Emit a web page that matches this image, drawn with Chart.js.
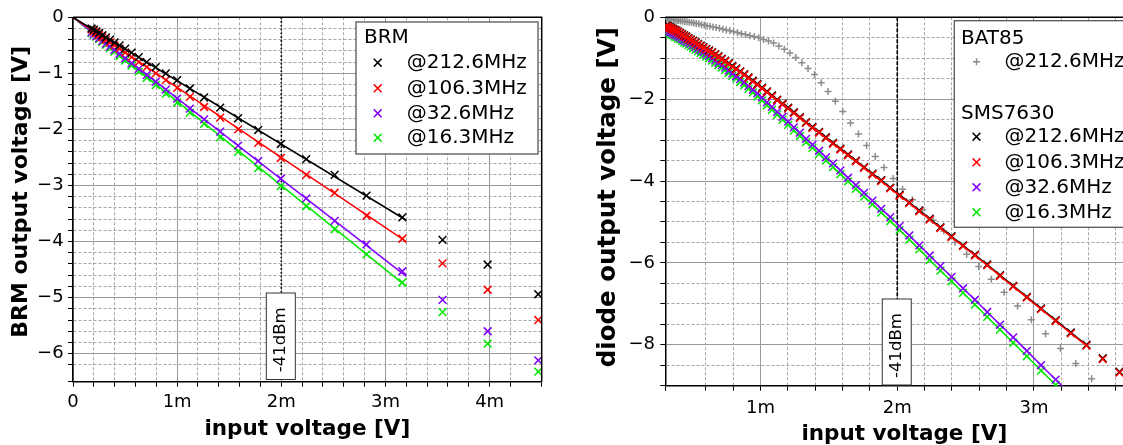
<!DOCTYPE html>
<html>
<head>
<meta charset="utf-8">
<script src="https://cdn.jsdelivr.net/npm/chart.js@4.4.1/dist/chart.umd.min.js"></script>
<style>
  html, body { margin: 0; padding: 0; background: #fff; }
  #wrap { position: relative; width: 1123px; height: 445px; overflow: hidden; }
  #brm { position: absolute; left: 0; top: 0; }
  #diode { position: absolute; left: 560px; top: 0; }
</style>
</head>
<body>
<div id="wrap">
  <canvas id="brm" width="560" height="445"></canvas>
  <canvas id="diode" width="600" height="445"></canvas>
</div>
<script>
// ---- left plot: BRM, input voltage in mV ----
var brmX = [0.178,0.200,0.224,0.251,0.282,0.316,0.355,0.398,0.447,0.501,0.562,0.631,0.708,0.794,0.891,
            1.000,1.122,1.259,1.413,1.585,1.778,1.995,2.239,2.512,2.818,3.162,3.548,3.981,4.467];
var brm212 = [-0.20,-0.22,-0.25,-0.28,-0.32,-0.36,-0.40,-0.45,-0.50,-0.56,-0.63,-0.71,-0.80,-0.89,-1.00,
              -1.12,-1.27,-1.43,-1.61,-1.80,-2.01,-2.26,-2.53,-2.81,-3.18,-3.57,-3.97,-4.41,-4.94];
var brm106 = [-0.22,-0.25,-0.28,-0.32,-0.36,-0.40,-0.45,-0.50,-0.56,-0.63,-0.71,-0.80,-0.89,-1.00,-1.12,
              -1.26,-1.42,-1.60,-1.79,-2.00,-2.24,-2.51,-2.81,-3.13,-3.54,-3.95,-4.39,-4.86,-5.40];
var brm32  = [-0.27,-0.30,-0.33,-0.37,-0.42,-0.47,-0.52,-0.58,-0.65,-0.73,-0.82,-0.92,-1.03,-1.15,-1.29,
              -1.45,-1.63,-1.82,-2.04,-2.29,-2.56,-2.88,-3.23,-3.63,-4.05,-4.53,-5.04,-5.60,-6.12];
var brm16  = [-0.28,-0.31,-0.35,-0.39,-0.44,-0.49,-0.55,-0.61,-0.69,-0.77,-0.86,-0.97,-1.08,-1.21,-1.36,
              -1.52,-1.70,-1.90,-2.14,-2.40,-2.69,-3.01,-3.37,-3.78,-4.23,-4.73,-5.26,-5.82,-6.32];
var brmFitX = [0, 3.2];
var brmFit212 = [0, -3.62];
var brmFit106 = [0, -4.00];
var brmFit32  = [0, -4.62];
var brmFit16  = [0, -4.80];
var brmXMajor = [0, 1, 2, 3, 4];
var brmYMajor = [0, -1, -2, -3, -4, -5, -6];

// ---- right plot: diodes ----
var smsX = [0.3125,0.3234,0.3348,0.3466,0.3588,0.3714,0.3844,0.3979,0.4119,0.4264,
            0.4414,0.4569,0.4729,0.4896,0.5068,0.5246,0.5430,0.5621,0.5818,0.6023,
            0.6234,0.6453,0.6680,0.6915,0.7158,0.7409,0.7670,0.7939,0.8218,0.8507,
            0.8806,0.9115,0.9435,0.9767,1.0110,1.0466,1.0833,1.1214,1.1608,1.2016,
            1.2438,1.2875,1.3328,1.3796,1.4281,1.4782,1.5302,1.5839,1.6396,1.6972,
            1.7569,1.8186,1.8825,1.9486,2.0171,2.0880,2.1613,2.2372,2.3157,2.3970,
            2.4811,2.5682,2.6583,2.7516,2.8482,2.9482,3.0517,3.1588,3.2697,3.3845,
            3.5033,3.6262];
var sms212 = [-0.20,-0.22,-0.24,-0.26,-0.28,-0.30,-0.32,-0.35,-0.38,-0.41,
              -0.44,-0.47,-0.51,-0.54,-0.57,-0.61,-0.65,-0.69,-0.73,-0.77,
              -0.81,-0.85,-0.90,-0.95,-1.01,-1.06,-1.12,-1.19,-1.25,-1.32,
              -1.39,-1.47,-1.55,-1.63,-1.72,-1.81,-1.91,-2.01,-2.11,-2.21,
              -2.32,-2.44,-2.56,-2.68,-2.80,-2.93,-3.07,-3.21,-3.35,-3.50,
              -3.66,-3.82,-3.98,-4.16,-4.34,-4.52,-4.72,-4.92,-5.13,-5.35,
              -5.57,-5.80,-6.04,-6.30,-6.56,-6.83,-7.11,-7.40,-7.70,-8.00,
              -8.33,-8.66];
var sms106 = [-0.22,-0.24,-0.26,-0.28,-0.30,-0.32,-0.34,-0.37,-0.40,-0.43,
              -0.46,-0.49,-0.53,-0.56,-0.59,-0.63,-0.67,-0.71,-0.75,-0.79,
              -0.83,-0.87,-0.92,-0.97,-1.03,-1.08,-1.14,-1.21,-1.27,-1.34,
              -1.41,-1.49,-1.57,-1.65,-1.74,-1.83,-1.93,-2.03,-2.13,-2.23,
              -2.34,-2.46,-2.58,-2.70,-2.82,-2.95,-3.09,-3.23,-3.37,-3.52,
              -3.68,-3.84,-4.00,-4.18,-4.36,-4.54,-4.74,-4.94,-5.15,-5.37,
              -5.59,-5.82,-6.06,-6.32,-6.58,-6.85,-7.13,-7.42,-7.72,-8.02,
              -8.35,-8.68];
var sms32 = [-0.30,-0.32,-0.35,-0.37,-0.39,-0.42,-0.44,-0.47,-0.49,-0.53,
             -0.56,-0.59,-0.62,-0.65,-0.69,-0.73,-0.77,-0.81,-0.85,-0.90,
             -0.94,-1.00,-1.05,-1.11,-1.17,-1.23,-1.30,-1.37,-1.44,-1.51,
             -1.59,-1.68,-1.77,-1.86,-1.96,-2.08,-2.19,-2.31,-2.43,-2.55,
             -2.69,-2.82,-2.97,-3.11,-3.26,-3.42,-3.57,-3.74,-3.92,-4.10,
             -4.29,-4.48,-4.68,-4.88,-5.10,-5.33,-5.57,-5.82,-6.08,-6.34,
             -6.62,-6.90,-7.20,-7.51,-7.82,-8.15,-8.50,-8.85,-9.21];
var sms16 = [-0.35,-0.37,-0.40,-0.42,-0.44,-0.47,-0.49,-0.52,-0.54,-0.58,
             -0.61,-0.64,-0.68,-0.71,-0.75,-0.79,-0.83,-0.87,-0.91,-0.96,
             -1.00,-1.06,-1.11,-1.17,-1.23,-1.29,-1.36,-1.43,-1.50,-1.58,
             -1.66,-1.75,-1.84,-1.93,-2.03,-2.15,-2.26,-2.38,-2.50,-2.63,
             -2.77,-2.90,-3.05,-3.19,-3.34,-3.50,-3.66,-3.83,-4.01,-4.19,
             -4.38,-4.57,-4.77,-4.98,-5.20,-5.43,-5.67,-5.93,-6.19,-6.45,
             -6.73,-7.02,-7.32,-7.63,-7.95,-8.28,-8.63,-8.98,-9.34];
var batX = [0.316,0.327,0.338,0.350,0.363,0.375,0.389,0.402,0.416,0.431,
            0.446,0.462,0.478,0.495,0.512,0.530,0.549,0.568,0.588,0.609,
            0.630,0.652,0.675,0.699,0.724,0.749,0.775,0.803,0.831,0.860,
            0.890,0.922,0.954,0.987,1.022,1.058,1.095,1.134,1.174,1.215,
            1.257,1.302,1.347,1.395,1.444,1.494,1.547,1.601,1.658,1.716,
            1.776,1.839,1.903,1.970,2.039,2.111,2.185,2.262,2.341,2.423,
            2.508,2.596,2.688,2.782,2.880,2.981,3.085,3.194,3.306,3.422];
var bat212 = [-0.05,-0.05,-0.06,-0.06,-0.07,-0.07,-0.08,-0.08,-0.09,-0.09,
              -0.10,-0.11,-0.12,-0.13,-0.14,-0.15,-0.16,-0.18,-0.19,-0.21,
              -0.22,-0.24,-0.25,-0.27,-0.29,-0.31,-0.33,-0.35,-0.37,-0.40,
              -0.42,-0.45,-0.47,-0.50,-0.54,-0.58,-0.63,-0.70,-0.78,-0.87,
              -0.98,-1.11,-1.25,-1.40,-1.60,-1.81,-2.05,-2.30,-2.58,-2.85,
              -3.13,-3.40,-3.67,-3.94,-4.20,-4.46,-4.71,-4.96,-5.22,-5.50,
              -5.79,-6.09,-6.40,-6.72,-7.05,-7.39,-7.73,-8.09,-8.46,-8.83];
var diodeXMajor = [1, 2, 3];
var diodeYMajor = [0, -2, -4, -6, -8];
var dbmMarkX = 2.0;   // -41dBm
var dbmLabel = '-41dBm';

Chart.defaults.font.family = '"DejaVu Sans", sans-serif';
Chart.defaults.color = '#000';

var BLACK = '#000000', RED = '#ff0000', PURPLE = '#8000ff', GREEN = '#00e800', GRAY = '#8c8c8c';

function pts(xs, ys) {
  var out = [];
  for (var i = 0; i < ys.length; i++) out.push({x: xs[i], y: ys[i]});
  return out;
}
function isMajor(v, list) {
  for (var i = 0; i < list.length; i++) if (Math.abs(list[i] - v) < 1e-6) return true;
  return false;
}
function markers(xs, ys, color, style, r, order) {
  return { data: pts(xs, ys), showLine: false, pointStyle: style, pointRadius: r,
           pointBorderColor: color, pointBackgroundColor: color, pointBorderWidth: 1.5, order: order };
}
function curve(xs, ys, color, order) {
  return { data: pts(xs, ys), showLine: true, borderColor: color, borderWidth: 1.5,
           pointRadius: 0, order: order, clip: 0 };
}

function axis(min, max, step, major, fmt, size, tickPad, title, titleSize, titlePad) {
  return {
    type: 'linear', min: min, max: max,
    afterFit: function (s) { if (s.isHorizontal()) s.height = size; else s.width = size; },
    ticks: { stepSize: step, autoSkip: false, maxRotation: 0, padding: tickPad, color: '#000',
             font: {size: 18},
             callback: function (v) { return isMajor(v, major) ? fmt(v) : ''; } },
    grid: { color: function (c) { return (!c.tick || isMajor(c.tick.value, major)) ? '#999999' : '#a6a6a6'; },
            lineWidth: 1, tickColor: '#000', tickLength: 5 },
    border: { color: '#000', width: 1.5,
              dash: function (c) { return (c.tick && !isMajor(c.tick.value, major)) ? [3, 2] : []; } },
    title: { display: true, text: title, color: '#000',
             font: {size: titleSize, weight: 'bold', lineHeight: 1}, padding: titlePad }
  };
}
function fmtX(v) { return Math.abs(v) < 1e-6 ? '0' : Math.round(v) + 'm'; }
function fmtY(v) { return Math.abs(v) < 1e-6 ? '0' : '\u2212' + Math.abs(Math.round(v)); }

function drawMark(c, style, x, y, color) {
  c.save();
  c.strokeStyle = color; c.lineWidth = 1.5;
  c.beginPath();
  if (style === 'cross') {
    c.moveTo(x - 3.5, y); c.lineTo(x + 3.5, y);
    c.moveTo(x, y - 3.5); c.lineTo(x, y + 3.5);
  } else {
    var d = 3.9;
    c.moveTo(x - d, y - d); c.lineTo(x + d, y + d);
    c.moveTo(x - d, y + d); c.lineTo(x + d, y - d);
  }
  c.stroke();
  c.restore();
}

function legendPlugin(lg) {
  return {
    id: 'boxLegend',
    afterDatasetsDraw: function (chart) {
      var c = chart.ctx, b = lg.box;
      c.save();
      c.fillStyle = '#fff';
      c.fillRect(b[0], b[1], b[2] - b[0], b[3] - b[1]);
      c.strokeStyle = '#555'; c.lineWidth = 1.3;
      c.strokeRect(b[0], b[1], b[2] - b[0], b[3] - b[1]);
      c.font = '20px "DejaVu Sans"'; c.textBaseline = 'middle'; c.textAlign = 'left';
      lg.rows.forEach(function (r) {
        c.fillStyle = '#000';
        if (r.head) { c.fillText(r.text, lg.headX, r.y); return; }
        drawMark(c, r.style, lg.markX, r.y, r.color);
        c.fillStyle = '#000';
        c.fillText(r.text, lg.textX, r.y);
      });
      c.restore();
    }
  };
}

function dbmPlugin(dash, boxH, boxGap) {
  return {
    id: 'dbmMark',
    beforeDatasetsDraw: function (chart) {
      var c = chart.ctx, a = chart.chartArea;
      var px = chart.scales.x.getPixelForValue(dbmMarkX);
      var bot = a.bottom - boxGap, top = bot - boxH;
      c.save();
      c.strokeStyle = '#000'; c.lineWidth = 1.6; c.setLineDash(dash);
      c.beginPath(); c.moveTo(px, a.top); c.lineTo(px, top); c.stroke();
      c.setLineDash([]);
      c.fillStyle = '#fff'; c.fillRect(px - 15, top, 29, boxH);
      c.strokeStyle = '#333'; c.lineWidth = 1; c.strokeRect(px - 15, top, 29, boxH);
      c.translate(px - 0.5, (top + bot) / 2 + 3.5);
      c.rotate(-Math.PI / 2);
      c.font = '16.5px "DejaVu Sans"'; c.textAlign = 'center'; c.textBaseline = 'middle';
      c.fillStyle = '#000';
      c.fillText(dbmLabel, 0, 0);
      c.restore();
    }
  };
}

var framePlugin = {
  id: 'frame',
  afterDraw: function (chart) {
    var c = chart.ctx, a = chart.chartArea;
    c.save();
    c.strokeStyle = '#000'; c.lineWidth = 1.5;
    c.beginPath();
    c.moveTo(a.left, a.top); c.lineTo(a.right, a.top); c.lineTo(a.right, a.bottom);
    c.stroke();
    c.restore();
  }
};

var common = {
  responsive: false, animation: false, events: [],
  plugins: { legend: {display: false}, tooltip: {enabled: false} }
};

// left chart
new Chart(document.getElementById('brm'), {
  type: 'scatter',
  data: {
    datasets: [
      curve(brmFitX, brmFit212, BLACK, 0),
      markers(brmX, brm212, BLACK, 'crossRot', 5.5, 1),
      curve(brmFitX, brmFit106, RED, 2),
      markers(brmX, brm106, RED, 'crossRot', 5.5, 3),
      curve(brmFitX, brmFit32, PURPLE, 4),
      markers(brmX, brm32, PURPLE, 'crossRot', 5.5, 5),
      curve(brmFitX, brmFit16, GREEN, 6),
      markers(brmX, brm16, GREEN, 'crossRot', 5.5, 7)
    ]
  },
  options: Object.assign({}, common, {
    layout: { padding: {left: 0, top: 17.3, right: 18.3, bottom: 0} },
    scales: {
      x: axis(0, 4.5, 0.2, brmXMajor, fmtX, 63.3, 4.5, 'input voltage [V]', 21.5, {top: 0, bottom: 4.5}),
      y: axis(-6.5, 0, 0.2, brmYMajor, fmtY, 73, 4.4, '  BRM output voltage [V]', 22, {top: 10.5, bottom: 0})
    }
  }),
  plugins: [
    dbmPlugin([1.6, 2.2], 86.5, 2.2),
    legendPlugin({
      box: [356, 22, 538, 154], headX: 364, markX: 377.7, textX: 406.7,
      rows: [
        {head: true, text: 'BRM', y: 37.3},
        {text: '@212.6MHz', y: 62.7, color: BLACK, style: 'crossRot'},
        {text: '@106.3MHz', y: 88.3, color: RED, style: 'crossRot'},
        {text: '@32.6MHz', y: 113.3, color: PURPLE, style: 'crossRot'},
        {text: '@16.3MHz', y: 137.7, color: GREEN, style: 'crossRot'}
      ]
    }),
    framePlugin
  ]
});

// right chart
new Chart(document.getElementById('diode'), {
  type: 'scatter',
  data: {
    datasets: [
      curve(smsX, sms106.slice(0, 70), RED, 0),
      markers(smsX, sms106, RED, 'crossRot', 5.5, 1),
      curve(smsX, sms212.slice(0, 70), BLACK, 2),
      markers(smsX, sms212, BLACK, 'crossRot', 5.5, 3),
      curve(smsX, sms32, PURPLE, 4),
      markers(smsX, sms32, PURPLE, 'crossRot', 5.5, 5),
      curve(smsX, sms16, GREEN, 6),
      markers(smsX, sms16, GREEN, 'crossRot', 5.5, 7),
      markers(batX, bat212, GRAY, 'cross', 3.5, 8)
    ]
  },
  options: Object.assign({}, common, {
    layout: { padding: {left: 0, top: 17.3, right: 16.7, bottom: 0} },
    scales: {
      x: axis(0.303, 3.8, 0.2, diodeXMajor, fmtX, 59.3, 6.5, 'input voltage [V]', 21.5, {top: 0, bottom: 0}),
      y: axis(-9, 0, 0.5, diodeYMajor, fmtY, 105.3, 5.3, ' diode output voltage [V]', 24.5, {top: 36, bottom: 0})
    }
  }),
  plugins: [
    dbmPlugin([4, 1.5], 86, 0.7),
    legendPlugin({
      box: [394.3, 20.7, 579.3, 227.3], headX: 401, markX: 416.5, textX: 444.5,
      rows: [
        {head: true, text: 'BAT85', y: 38.3},
        {text: '@212.6MHz', y: 61.7, color: GRAY, style: 'cross'},
        {head: true, text: 'SMS7630', y: 113.3},
        {text: '@212.6MHz', y: 136.7, color: BLACK, style: 'crossRot'},
        {text: '@106.3MHz', y: 162.3, color: RED, style: 'crossRot'},
        {text: '@32.6MHz', y: 187.3, color: PURPLE, style: 'crossRot'},
        {text: '@16.3MHz', y: 212.3, color: GREEN, style: 'crossRot'}
      ]
    }),
    framePlugin
  ]
});
</script>
</body>
</html>
